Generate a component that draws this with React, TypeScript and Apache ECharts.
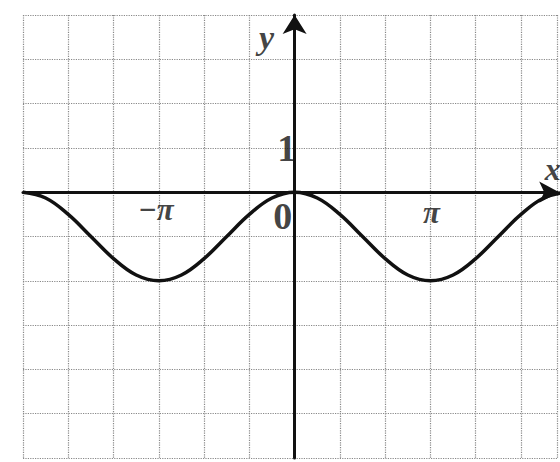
import React, { useEffect, useRef } from "react";
import * as echarts from "echarts";

// x positions of curve samples, in sixths of π
const xSixths = [-12, -11, -10, -9, -8, -7, -6, -5, -4, -3, -2, -1, 0, 1, 2, 3, 4, 5, 6, 7, 8, 9, 10, 11, 12];
// curve values
const yValues = [0, -0.13, -0.5, -1, -1.5, -1.87, -2, -1.87, -1.5, -1, -0.5, -0.13, 0, -0.13, -0.5, -1, -1.5, -1.87, -2, -1.87, -1.5, -1, -0.5, -0.13, 0];

// tick / axis labels
const labelTexts = ["−π", "π", "0", "1", "y", "x"];
// anchor x (in units of π) and y for each label
const labelX = [-1, 1, 0, 0, 0, 1.9];
const labelY = [0, 0, 0, 1, 4, 0];

const STEP = Math.PI / 3;

export default function App() {
  const ref = useRef<HTMLDivElement>(null);
  useEffect(() => {
    if (!ref.current) return;
    const chart = echarts.init(ref.current, undefined, { renderer: "svg" });
    const curve = xSixths.map((s, i) => [(s * Math.PI) / 6, yValues[i]]);
    const offsets = [
      [-3, 17],
      [1, 20],
      [-12, 24],
      [-8, 0],
      [-28, 22],
      [0, -23],
    ];
    const styles = [
      { fontStyle: "italic", fontSize: 31 },
      { fontStyle: "italic", fontSize: 31 },
      { fontStyle: "normal", fontSize: 38 },
      { fontStyle: "normal", fontSize: 38 },
      { fontStyle: "italic", fontSize: 34 },
      { fontStyle: "italic", fontSize: 32 },
    ];
    const labels = labelTexts.map((t, i) => ({
      value: [labelX[i] * Math.PI, labelY[i]],
      label: {
        show: true,
        formatter: t,
        position: "inside",
        offset: offsets[i],
        color: "#111",
        fontFamily: "Liberation Serif",
        fontWeight: "bold",
        ...styles[i],
      },
    }));
    const gridLine = { show: true, lineStyle: { type: "dotted", color: "#888", width: 1.2 } };
    chart.setOption({
      animation: false,
      backgroundColor: "#fff",
      grid: { left: 23, right: 2.8, top: 15, bottom: 4, containLabel: false },
      xAxis: {
        type: "value",
        min: -6 * STEP,
        max: 5.8 * STEP,
        interval: STEP,
        axisLine: {
          show: true,
          onZero: true,
          symbol: ["none", "arrow"],
          symbolSize: [16, 20],
          symbolOffset: [0, 2],
          lineStyle: { color: "#111", width: 3 },
        },
        axisTick: { show: false },
        axisLabel: { show: false },
        splitLine: gridLine,
      },
      yAxis: {
        type: "value",
        min: -6,
        max: 4,
        interval: 1,
        axisLine: {
          show: true,
          onZero: true,
          symbol: ["none", "arrow"],
          symbolSize: [18, 19],
          symbolOffset: [0, 0],
          lineStyle: { color: "#111", width: 3 },
        },
        axisTick: { show: false },
        axisLabel: { show: false },
        splitLine: gridLine,
      },
      series: [
        {
          type: "line",
          data: curve,
          smooth: 0.4,
          symbol: "none",
          lineStyle: { color: "#111", width: 3.5 },
          z: 5,
        },
        {
          type: "scatter",
          data: labels,
          symbolSize: 0,
          clip: false,
          z: 6,
        },
      ],
    });
    return () => chart.dispose();
  }, []);
  return (
    <div
      ref={ref}
      style={{ position: "absolute", left: 0, top: 0, width: 560, height: 462, background: "#fff" }}
    />
  );
}
